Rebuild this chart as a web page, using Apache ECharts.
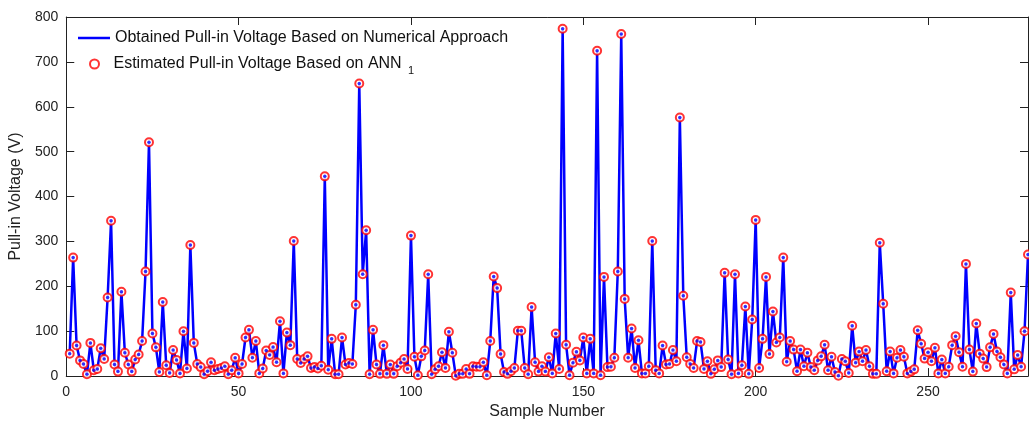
<!DOCTYPE html>
<html><head><meta charset="utf-8">
<script src="https://cdn.jsdelivr.net/npm/echarts@6/dist/echarts.min.js"></script>
<style>html,body{margin:0;padding:0;background:#fff}#c{width:1029px;height:425px}</style>
</head><body><div id="c"></div>
<script>
const xTickLabels = [0, 50, 100, 150, 200, 250];
const yTickLabels = [0, 100, 200, 300, 400, 500, 600, 700, 800];
const seriesNames = ['Obtained Pull-in Voltage Based on Numerical Approach', 'Estimated Pull-in Voltage Based on ANN 1'];

const numericalVoltage = [
50,264,68,35,27,4,74,13,16,62,
38,175,346,26,10,188,52,26,10,37,
48,78,233,521,95,64,9,165,24,7,
58,36,6,100,17,292,74,27,20,4,
11,31,13,16,18,22,4,13,41,6,
27,86,103,41,78,6,17,57,47,65,
31,122,6,97,69,301,38,29,38,44,
18,20,17,23,445,14,83,4,4,86,
26,29,27,159,652,227,325,4,103,26,
5,69,5,26,5,22,30,38,16,313,
43,2,44,57,227,4,15,22,53,18,
99,52,1,5,5,16,5,22,21,21,
31,2,78,222,196,49,9,5,11,18,
101,101,18,4,154,31,10,22,10,42,
6,95,16,774,70,2,30,54,35,86,
6,83,6,725,2,221,20,21,41,233,
762,172,41,106,18,80,6,6,22,301,
13,6,68,26,27,58,33,576,179,42,
27,18,78,76,16,33,5,15,35,20,
230,37,4,227,6,24,155,5,126,348,
18,83,221,49,144,75,86,264,32,78,
59,11,59,22,52,20,13,35,44,70,
13,43,9,1,38,33,7,112,30,55,
33,58,22,5,5,297,161,11,55,6,
41,58,43,6,10,15,102,72,39,53,
33,63,6,37,6,21,69,89,53,21,
250,59,10,117,50,39,20,64,94,55,
42,26,6,186,15,47,21,100,271
];

const annEstimate = [
50,264,68,35,27,4,74,13,16,62,
38,175,346,26,10,188,52,26,10,37,
48,78,233,521,95,64,9,165,24,7,
58,36,6,100,17,292,74,27,20,4,
11,31,13,16,18,22,4,13,41,6,
27,86,103,41,78,6,17,57,47,65,
31,122,6,97,69,301,38,29,38,44,
18,20,17,23,445,14,83,4,4,86,
26,29,27,159,652,227,325,4,103,26,
5,69,5,26,5,22,30,38,16,313,
43,2,44,57,227,4,15,22,53,18,
99,52,1,5,5,16,5,22,21,21,
31,2,78,222,196,49,9,5,11,18,
101,101,18,4,154,31,10,22,10,42,
6,95,16,774,70,2,30,54,35,86,
6,83,6,725,2,221,20,21,41,233,
762,172,41,106,18,80,6,6,22,301,
13,6,68,26,27,58,33,576,179,42,
27,18,78,76,16,33,5,15,35,20,
230,37,4,227,6,24,155,5,126,348,
18,83,221,49,144,75,86,264,32,78,
59,11,59,22,52,20,13,35,44,70,
13,43,9,1,38,33,7,112,30,55,
33,58,22,5,5,297,161,11,55,6,
41,58,43,6,10,15,102,72,39,53,
33,63,6,37,6,21,69,89,53,21,
250,59,10,117,50,39,20,64,94,55,
42,26,6,186,15,47,21,100,271
];

const FONT = '"Liberation Sans", Arial, Helvetica, sans-serif';
const AX = '#222222';
const toXY = arr => arr.map((v, i) => [i + 1, v]);
const xMax = numericalVoltage.length;

const xLabelFmt = v => (xTickLabels.indexOf(v) >= 0 ? String(v) : '');
const yLabelFmt = v => (yTickLabels.indexOf(v) >= 0 ? String(v) : '');

const chart = echarts.init(document.getElementById('c'), null, {renderer: 'canvas'});
chart.setOption({
  animation: false,
  backgroundColor: '#ffffff',
  textStyle: {fontFamily: FONT},
  grid: {left: 65, right: 1, top: 17, bottom: 47, containLabel: false},
  legend: [
    {
      data: [{name: seriesNames[0], icon: 'rect'}], left: 73, top: 25, orient: 'vertical',
      itemWidth: 32, itemHeight: 2.5, itemGap: 0, selectedMode: false,
      itemStyle: {color: '#0000ff'},
      textStyle: {fontSize: 16, color: '#111', fontFamily: FONT}
    },
    {
      data: [seriesNames[1]], left: 84, top: 51, orient: 'vertical',
      itemWidth: 28, itemHeight: 9, itemGap: 0, selectedMode: false,
      formatter: () => 'Estimated Pull-in Voltage Based on ANN {sub|1}',
      textStyle: {
        fontSize: 16, color: '#111', fontFamily: FONT,
        rich: {sub: {fontSize: 11, color: '#111', fontFamily: FONT, padding: [13, 0, 0, 2]}}
      }
    }
  ],
  xAxis: [
    {
      type: 'value', position: 'bottom', min: 0, max: xMax, interval: 50,
      name: 'Sample Number', nameLocation: 'middle', nameGap: 26,
      nameTextStyle: {fontSize: 16, color: AX, fontFamily: FONT},
      axisLine: {show: true, onZero: false, lineStyle: {color: AX, width: 1}},
      axisTick: {show: true, inside: true, length: 8, lineStyle: {color: AX}},
      axisLabel: {show: true, fontSize: 14, color: AX, margin: 9, formatter: xLabelFmt, showMaxLabel: false, fontFamily: FONT},
      splitLine: {show: false}
    },
    {
      type: 'value', position: 'top', min: 0, max: xMax, interval: 50,
      axisLine: {show: true, onZero: false, lineStyle: {color: AX, width: 1}},
      axisTick: {show: true, inside: true, length: 8, lineStyle: {color: AX}},
      axisLabel: {show: false},
      splitLine: {show: false}
    }
  ],
  yAxis: [
    {
      type: 'value', position: 'left', min: 0, max: 800, interval: 100,
      name: 'Pull-in Voltage (V)', nameLocation: 'middle', nameGap: 33,
      nameTextStyle: {fontSize: 16, color: AX, fontFamily: FONT},
      axisLine: {show: true, onZero: false, lineStyle: {color: AX, width: 1}},
      axisTick: {show: true, inside: true, length: 8, lineStyle: {color: AX}},
      axisLabel: {show: true, fontSize: 14, color: AX, margin: 8, formatter: yLabelFmt, fontFamily: FONT},
      splitLine: {show: false}
    },
    {
      type: 'value', position: 'right', min: 0, max: 800, interval: 100,
      axisLine: {show: true, onZero: false, lineStyle: {color: AX, width: 1}},
      axisTick: {show: true, inside: true, length: 8, lineStyle: {color: AX}},
      axisLabel: {show: false},
      splitLine: {show: false}
    }
  ],
  series: [
    {
      name: seriesNames[0], type: 'line', xAxisIndex: 0, yAxisIndex: 0,
      data: toXY(numericalVoltage), symbol: 'none', z: 2,
      lineStyle: {color: '#0000ff', width: 2.5}, itemStyle: {color: '#0000ff'}
    },
    {
      name: seriesNames[1], type: 'scatter', xAxisIndex: 0, yAxisIndex: 0,
      data: toXY(annEstimate), symbol: 'emptyCircle', symbolSize: 8, z: 3,
      itemStyle: {color: '#ff0000', borderColor: '#ff0000', borderWidth: 2}
    },
    {
      name: 'vertexDots', type: 'scatter', xAxisIndex: 0, yAxisIndex: 0,
      data: toXY(numericalVoltage), symbol: 'circle', symbolSize: 3.5, z: 4, silent: true,
      itemStyle: {color: '#0000ff'}
    }
  ]
});
</script>
</body></html>
